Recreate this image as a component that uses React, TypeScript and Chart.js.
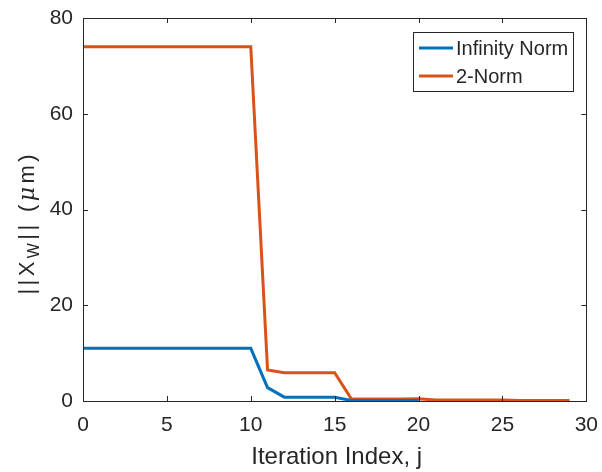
import React, { useEffect, useRef } from "react";
import { Chart, registerables } from "chart.js";

Chart.register(...registerables);

const iterationsInf = [0,1,2,3,4,5,6,7,8,9,10,11,12,13,14,15,16,17,18,19,20];
const infinityNorm = [11,11,11,11,11,11,11,11,11,11,11,2.8,0.8,0.8,0.8,0.8,0.1,0.1,0.1,0.1,0.1];
const iterations2 = [0,1,2,3,4,5,6,7,8,9,10,11,12,13,14,15,16,17,18,19,20,21,22,23,24,25,26,27,28,29];
const twoNorm = [74,74,74,74,74,74,74,74,74,74,74,6.5,5.9,5.9,5.9,5.9,0.4,0.4,0.4,0.4,0.45,0.2,0.2,0.2,0.2,0.2,0.1,0.1,0.1,0.1];
const xTicks = [0,5,10,15,20,25,30];
const yTicks = [0,20,40,60,80];
const seriesNames = ["Infinity Norm", "2-Norm"];
const seriesColors = ["#0072BD", "#D95319"];
const xTitle = "Iteration Index, j";

const FONT = "'Liberation Sans', Arial, sans-serif";
const AXIS = "#262626";

const decorPlugin = {
  id: "decor",
  afterDraw(chart: any) {
    const ctx = chart.ctx;
    const a = chart.chartArea;
    const xs = chart.scales.x;
    const ys = chart.scales.y;
    ctx.save();
    // box
    ctx.strokeStyle = AXIS;
    ctx.lineWidth = 1;
    ctx.strokeRect(Math.round(a.left) + 0.5, Math.round(a.top) + 0.5, Math.round(a.right - a.left), Math.round(a.bottom - a.top));
    // inward ticks
    const tl = 5;
    ctx.beginPath();
    xTicks.forEach((v) => {
      const px = Math.round(xs.getPixelForValue(v)) + 0.5;
      ctx.moveTo(px, a.bottom);
      ctx.lineTo(px, a.bottom - tl);
      ctx.moveTo(px, a.top);
      ctx.lineTo(px, a.top + tl);
    });
    yTicks.forEach((v) => {
      const py = Math.round(ys.getPixelForValue(v)) + 0.5;
      ctx.moveTo(a.left, py);
      ctx.lineTo(a.left + tl, py);
      ctx.moveTo(a.right, py);
      ctx.lineTo(a.right - tl, py);
    });
    ctx.stroke();

    // x title
    ctx.fillStyle = AXIS;
    ctx.font = `24px ${FONT}`;
    ctx.textAlign = "center";
    ctx.textBaseline = "middle";
    ctx.fillText(xTitle, (a.left + a.right) / 2 + 2, a.bottom + 56);

    // y title with subscript
    ctx.save();
    ctx.translate(34, (a.top + a.bottom) / 2 + 15);
    ctx.rotate(-Math.PI / 2);
    ctx.textBaseline = "alphabetic";
    const big = `22px ${FONT}`;
    const small = `16px ${FONT}`;
    const ital = `italic 22px 'DejaVu Serif', serif`;
    const parts = [
      { t: "|", f: big, dy: 0 },
      { t: "|", f: big, dy: 0 },
      { t: "X", f: big, dy: 0 },
      { t: "W", f: small, dy: 5 },
      { t: "|", f: big, dy: 0 },
      { t: "|", f: big, dy: 0 },
      { t: " ", f: big, dy: 0 },
      { t: "(", f: big, dy: 0 },
      { t: "\u03bc", f: ital, dy: 0 },
      { t: "m", f: big, dy: 0 },
      { t: ")", f: big, dy: 0 },
    ];
    const target = 140;
    let natural = 0;
    parts.forEach((p) => { ctx.font = p.f; natural += ctx.measureText(p.t).width; });
    const gap = Math.max(0, (target - natural) / (parts.length - 1));
    const total = natural + gap * (parts.length - 1);
    let x = -total / 2;
    ctx.textAlign = "left";
    parts.forEach((p) => {
      ctx.font = p.f;
      ctx.fillText(p.t, x, p.dy);
      x += ctx.measureText(p.t).width + gap;
    });
    ctx.restore();

    // legend
    const lx = 413, ly = 32, lw = 160, lh = 59;
    ctx.fillStyle = "#ffffff";
    ctx.fillRect(lx, ly, lw, lh);
    ctx.strokeStyle = AXIS;
    ctx.lineWidth = 1;
    ctx.strokeRect(lx + 0.5, ly + 0.5, lw, lh);
    ctx.font = `20px ${FONT}`;
    ctx.textAlign = "left";
    ctx.textBaseline = "middle";
    const rows = [48, 76];
    seriesNames.forEach((n, i) => {
      ctx.strokeStyle = seriesColors[i];
      ctx.lineWidth = 3;
      ctx.beginPath();
      ctx.moveTo(419, rows[i]);
      ctx.lineTo(453, rows[i]);
      ctx.stroke();
      ctx.fillStyle = AXIS;
      ctx.fillText(n, 456, rows[i] + 1);
    });
    ctx.restore();
  },
};

export default function App() {
  const ref = useRef<HTMLCanvasElement>(null);
  useEffect(() => {
    document.body.style.margin = "0";
    const infData = iterationsInf.map((x, i) => ({ x, y: infinityNorm[i] }));
    const twoData = iterations2.map((x, i) => ({ x, y: twoNorm[i] }));
    const chart = new Chart(ref.current!, {
      type: "line",
      data: {
        datasets: [
          { label: seriesNames[0], data: infData, borderColor: seriesColors[0], borderWidth: 3, pointRadius: 0, fill: false, tension: 0 },
          { label: seriesNames[1], data: twoData, borderColor: seriesColors[1], borderWidth: 3, pointRadius: 0, fill: false, tension: 0 },
        ],
      },
      options: {
        animation: false,
        responsive: false,
        layout: { padding: { top: 18, right: 15, left: 0, bottom: 0 } },
        plugins: { legend: { display: false }, tooltip: { enabled: false } },
        scales: {
          x: {
            type: "linear",
            min: 0,
            max: 30,
            afterFit: (s: any) => { s.height = 71; },
            afterBuildTicks: (s: any) => { s.ticks = xTicks.map((v) => ({ value: v })); },
            grid: { display: false },
            border: { display: false },
            ticks: { color: AXIS, font: { family: FONT, size: 21 }, padding: 4, maxRotation: 0 },
          },
          y: {
            type: "linear",
            min: 0,
            max: 80,
            afterFit: (s: any) => { s.width = 83; },
            afterBuildTicks: (s: any) => { s.ticks = yTicks.map((v) => ({ value: v })); },
            grid: { display: false },
            border: { display: false },
            ticks: { color: AXIS, font: { family: FONT, size: 21 }, padding: 2 },
          },
        },
      },
      plugins: [decorPlugin],
    });
    return () => chart.destroy();
  }, []);
  return (
    <div style={{ width: 602, height: 472 }}>
      <canvas ref={ref} width={602} height={472} style={{ display: "block" }} />
    </div>
  );
}
